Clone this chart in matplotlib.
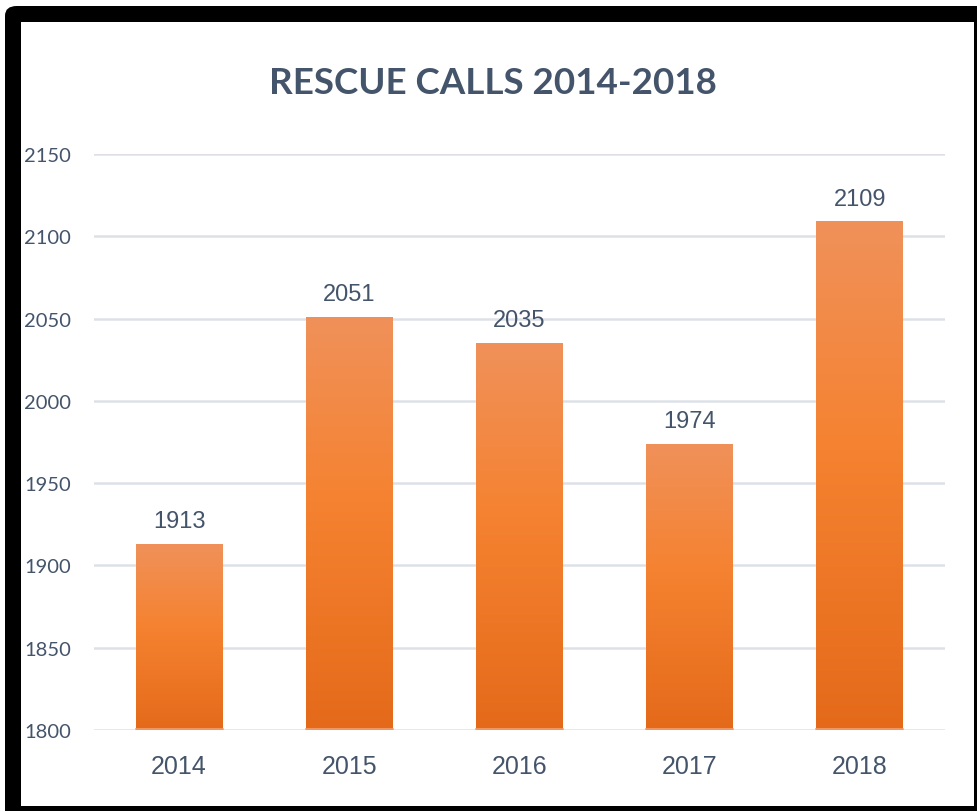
import numpy as np
import matplotlib.pyplot as plt
from matplotlib.colors import LinearSegmentedColormap
from matplotlib.patches import FancyBboxPatch, Rectangle

# data
years = ['2014', '2015', '2016', '2017', '2018']
calls = [1913, 2051, 2035, 1974, 2109]
yticks = [1800, 1850, 1900, 1950, 2000, 2050, 2100, 2150]

W, H = 977, 812
fig = plt.figure(figsize=(W / 100, H / 100), dpi=100)
fig.patch.set_facecolor('white')

# black frame with rounded top-left corner
def fx(px):
    return px / W

def fy(py):
    return 1 - py / H

frame = FancyBboxPatch((fx(5), fy(830)), fx(1000), fy(7) - fy(830),
                       boxstyle='round,pad=0,rounding_size=0.012',
                       transform=fig.transFigure, facecolor='black',
                       edgecolor='none', zorder=-2)
fig.patches.append(frame)
inner = Rectangle((fx(21), fy(807)), fx(974) - fx(21), fy(23) - fy(807),
                  transform=fig.transFigure, facecolor='white',
                  edgecolor='none', zorder=-1)
fig.patches.append(inner)

ax = fig.add_axes([fx(94), fy(731), fx(945) - fx(94), fy(155) - fy(731)])
ax.set_facecolor('none')

txt = '#44546A'
grad = LinearSegmentedColormap.from_list(
    'bar', [(0, '#E46A1A'), (0.55, '#F58230'), (1, '#F0915A')])

x = np.arange(len(years))
bars = ax.bar(x, [c - 1800 for c in calls], bottom=1800, width=0.51,
              color='none', edgecolor='none', zorder=3)
g = np.linspace(0, 1, 256).reshape(-1, 1)
for b, c in zip(bars, calls):
    x0 = b.get_x()
    im = ax.imshow(g, cmap=grad, origin='lower', aspect='auto',
                   extent=[x0, x0 + b.get_width(), 1800, c], zorder=3)
    im.set_clip_path(b)
    ax.plot([x0, x0 + b.get_width()], [1800.6, 1800.6], color='#F2A070',
            lw=1.2, zorder=4)
    ax.annotate(str(c), (x0 + b.get_width() / 2, c), xytext=(0, 8.5),
                textcoords='offset points', ha='center', va='bottom',
                fontsize=17, color=txt, family='Liberation Sans')

ax.set_xlim(-0.5, len(years) - 0.5)
ax.set_ylim(1800, 2150)
ax.set_yticks(yticks)
ax.set_xticks(x)
ax.set_xticklabels(years, fontsize=18, color=txt, family='Liberation Sans')
ax.set_yticklabels([str(t) for t in yticks], fontsize=14.5, color=txt,
                   family='Lato')
ax.tick_params(axis='both', length=0)
ax.tick_params(axis='x', pad=17)
ax.tick_params(axis='y', pad=16.5)
ax.grid(axis='y', color='#DDE1E7', lw=1.8, zorder=0)
for s in ax.spines.values():
    s.set_visible(False)

fig.text(fx(493), fy(83), 'RESCUE CALLS 2014-2018', ha='center', va='center',
         fontsize=26.5, fontweight='bold', color=txt, family='Lato')

fig.savefig('out.png', dpi=100)
